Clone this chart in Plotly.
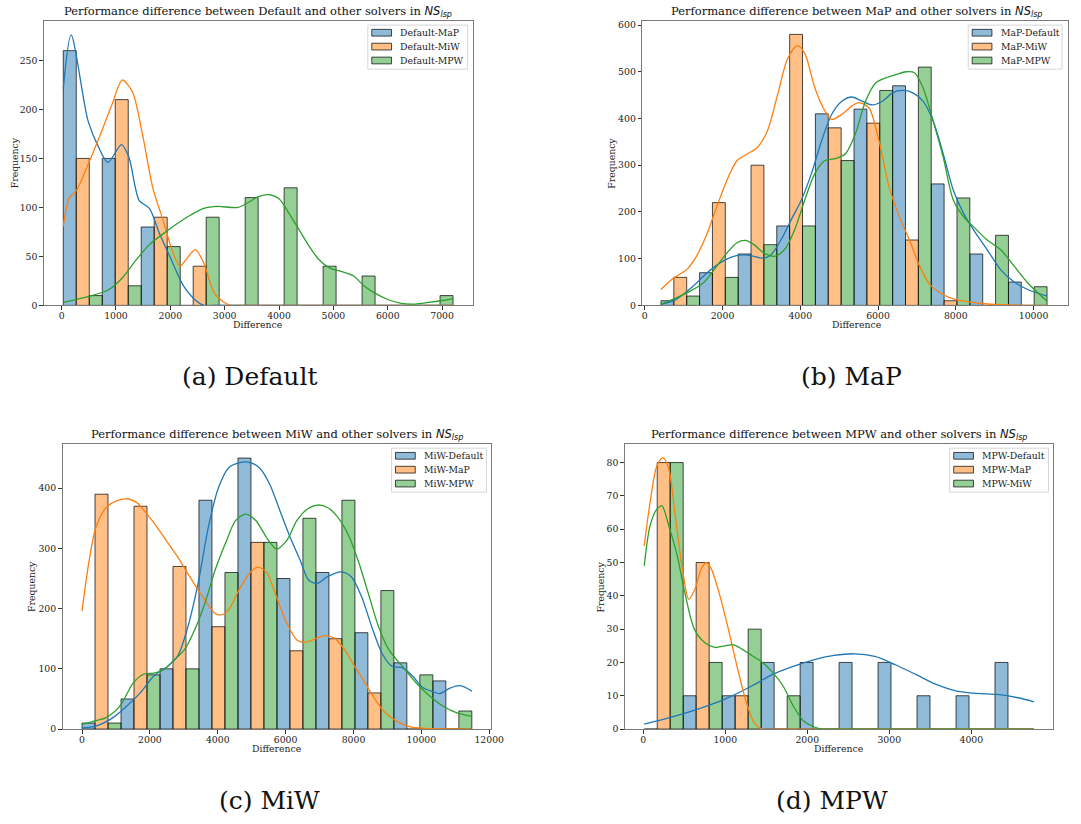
import plotly.graph_objects as go

W, H = 1081, 824
COLORS = ["#1f77b4", "#ff7f0e", "#2ca02c"]
FILLS = ["rgba(31,119,180,0.5)", "rgba(255,127,14,0.5)", "rgba(44,160,44,0.5)"]
EDGE = "rgba(0,0,0,0.7)"
SERIF = "DejaVu Serif"

# ---------------- data: panel (a) ----------------
a_solver = "Default"
a_labels = ["Default-MaP", "Default-MiW", "Default-MPW"]
a_edges = [31, 748, 1465, 2182, 2899, 3616, 4333, 5050, 5767, 6484, 7201]
a_counts_1 = [260, 150, 80, 0, 0, 0, 0, 0, 0, 0]
a_counts_2 = [150, 210, 90, 40, 0, 0, 0, 0, 0, 0]
a_counts_3 = [10, 20, 60, 90, 110, 120, 40, 30, 0, 10]
a_kde1_x = [31, 175, 488, 676, 852, 1102, 1240, 1428, 1615, 1803, 1991, 2242, 2492, 2617, 2800, 7201]
a_kde1_y = [221, 276, 188, 162, 146, 164, 151, 107, 99, 73, 50, 20, 4, 0, 0, 0]
a_kde2_x = [31, 144, 269, 488, 739, 927, 1115, 1302, 1490, 1678, 1866, 2054, 2179, 2304, 2461, 2617,
            2805, 2993, 3118, 3300, 7201]
a_kde2_y = [81, 110, 117, 144, 178, 205, 230, 218, 174, 120, 87, 53, 40, 48, 57, 43, 13, 3, 0, 0, 0]
a_kde3_x = [31, 488, 864, 1115, 1365, 1615, 1866, 2116, 2367, 2617, 2868, 3244, 3432, 3620, 3808, 3995,
            4183, 4371, 4558, 4746, 4934, 5122, 5372, 5560, 5748, 5999, 6249, 6500, 6750, 7000, 7201]
a_kde3_y = [3, 9, 16, 28, 46, 62, 73, 83, 92, 99, 101, 100, 105, 111, 113, 109, 94, 77, 60, 46, 38, 35,
            30, 20, 13, 6, 2, 1.3, 3, 5, 7]
a_xticks = [0, 1000, 2000, 3000, 4000, 5000, 6000, 7000]
a_yticks = [0, 50, 100, 150, 200, 250]

# ---------------- data: panel (b) ----------------
b_solver = "MaP"
b_labels = ["MaP-Default", "MaP-MiW", "MaP-MPW"]
b_edges = [417, 1410, 2403, 3396, 4389, 5383, 6376, 7369, 8362, 9355, 10348]
b_counts_1 = [10, 70, 110, 170, 410, 420, 470, 260, 110, 50]
b_counts_2 = [60, 220, 300, 580, 380, 390, 140, 10, 0, 0]
b_counts_3 = [20, 60, 130, 170, 310, 460, 510, 230, 150, 40]
b_kde1_x = [417, 809, 1243, 1591, 1939, 2287, 2548, 2809, 3026, 3243, 3504, 3765, 4026, 4287, 4548, 4809,
            5070, 5330, 5591, 5852, 6113, 6374, 6635, 6896, 7157, 7417, 7678, 7939, 8200, 8461, 8809,
            9157, 9504, 9852, 10348]
b_kde1_y = [2, 13, 41, 69, 91, 105, 108, 105, 101, 108, 140, 183, 225, 282, 352, 409, 437, 446, 437, 429,
            437, 455, 460, 455, 437, 395, 324, 246, 197, 161, 119, 76, 50, 34, 20]
b_kde2_x = [417, 748, 1070, 1330, 1591, 1852, 2113, 2374, 2635, 2896, 3157, 3417, 3678, 3922, 4113, 4374,
            4635, 4809, 5070, 5330, 5504, 5765, 6026, 6287, 6548, 6809, 7070, 7330, 7591, 7939, 8374,
            8809, 9330, 10348]
b_kde2_y = [34, 59, 76, 105, 151, 211, 268, 310, 324, 338, 374, 451, 529, 556, 540, 466, 416, 398, 409,
            427, 434, 423, 352, 253, 190, 140, 84, 45, 27, 14, 7, 3, 1, 0]
b_kde3_x = [417, 809, 1157, 1504, 1852, 2113, 2374, 2591, 2809, 3070, 3330, 3591, 3852, 4113, 4374, 4635,
            4896, 5157, 5417, 5678, 5939, 6200, 6461, 6722, 6939, 7157, 7417, 7678, 7939, 8200, 8461,
            8809, 9157, 9504, 9852, 10348]
b_kde3_y = [2, 16, 30, 48, 84, 112, 134, 139, 130, 112, 105, 119, 161, 225, 282, 310, 314, 324, 367, 437,
            476, 487, 494, 500, 498, 466, 395, 317, 225, 190, 168, 140, 119, 84, 48, 9]
b_xticks = [0, 2000, 4000, 6000, 8000, 10000]
b_yticks = [0, 100, 200, 300, 400, 500, 600]

# ---------------- data: panel (c) ----------------
c_solver = "MiW"
c_labels = ["MiW-Default", "MiW-MaP", "MiW-MPW"]
c_edges = [0, 1149, 2298, 3446, 4595, 5744, 6893, 8042, 9190, 10339, 11488]
c_counts_1 = [10, 50, 100, 380, 450, 250, 260, 160, 110, 80]
c_counts_2 = [390, 370, 270, 170, 310, 130, 150, 60, 0, 0]
c_counts_3 = [10, 90, 100, 260, 310, 350, 380, 230, 90, 30]
c_kde1_x = [0, 411, 913, 1314, 1716, 2117, 2518, 2819, 3120, 3421, 3722, 4023, 4324, 4625, 4926, 5227,
            5528, 5829, 6130, 6431, 6682, 6933, 7234, 7635, 7936, 8237, 8538, 8839, 9140, 9441, 9742,
            10043, 10344, 10545, 10846, 11147, 11488]
c_kde1_y = [2, 5, 19, 38, 60, 88, 104, 121, 170, 242, 335, 401, 434, 442, 443, 434, 407, 363, 319, 280,
            247, 242, 253, 261, 253, 220, 170, 126, 104, 102, 88, 69, 62, 59, 68, 72, 63]
c_kde2_x = [0, 211, 411, 712, 1013, 1365, 1615, 1916, 2217, 2518, 2819, 3120, 3421, 3722, 3923, 4124,
            4324, 4625, 4926, 5177, 5428, 5729, 6030, 6331, 6582, 6832, 7134, 7435, 7736, 8037, 8338,
            8639, 8940, 9241, 9642, 10143, 11488]
c_kde2_y = [196, 280, 335, 368, 379, 382, 376, 357, 335, 310, 286, 258, 231, 206, 192, 190, 198, 231,
            258, 269, 261, 220, 176, 148, 144, 149, 155, 151, 132, 104, 77, 49, 27, 14, 4, 1, 0]
c_kde3_x = [0, 411, 712, 1114, 1515, 1816, 2117, 2418, 2719, 3020, 3321, 3622, 3923, 4224, 4525, 4826,
            5127, 5428, 5729, 6030, 6331, 6632, 6933, 7234, 7535, 7836, 8137, 8438, 8739, 9040, 9441,
            9842, 10244, 10645, 11046, 11488]
c_kde3_y = [8, 14, 19, 38, 77, 91, 93, 99, 115, 132, 165, 209, 264, 308, 346, 357, 346, 319, 299, 313,
            346, 365, 372, 368, 352, 324, 280, 225, 170, 132, 104, 77, 55, 38, 27, 21]
c_xticks = [0, 2000, 4000, 6000, 8000, 10000, 12000]
c_yticks = [0, 100, 200, 300, 400]

# ---------------- data: panel (d) ----------------
d_solver = "MPW"
d_labels = ["MPW-Default", "MPW-MaP", "MPW-MiW"]
d_edges = [12, 487, 962, 1438, 1913, 2388, 2863, 3338, 3814, 4289, 4764]
d_counts_1 = [0, 10, 10, 20, 20, 20, 20, 10, 10, 20]
d_counts_2 = [80, 50, 10, 0, 0, 0, 0, 0, 0, 0]
d_counts_3 = [80, 20, 30, 10, 0, 0, 0, 0, 0, 0]
d_kde1_x = [12, 332, 665, 997, 1329, 1578, 1828, 2077, 2326, 2575, 2825, 3074, 3323, 3572, 3821, 4071,
            4320, 4569, 4764]
d_kde1_y = [1.5, 3.5, 6, 9, 13, 16.4, 18.8, 20.8, 22.1, 22.6, 21.8, 19.3, 16.4, 13.4, 11.4, 10.7, 10.4,
            9.4, 8.2]
d_kde2_x = [12, 83, 166, 241, 312, 395, 478, 555, 630, 706, 768, 831, 935, 1038, 1142, 1246, 1350, 1454,
            1600, 4764]
d_kde2_y = [55, 68, 79, 81.5, 78, 63, 48, 39, 42, 48, 50, 48, 40, 30, 19, 9, 2, 0, 0, 0]
d_kde3_x = [12, 83, 166, 228, 312, 415, 498, 623, 748, 872, 997, 1101, 1205, 1329, 1454, 1578, 1703, 1828,
            1952, 2077, 2201, 2400, 4764]
d_kde3_y = [49, 61, 66, 67, 61, 52, 42, 30, 26, 24.5, 25, 25.3, 24, 22, 20, 17, 13, 7, 2.5, 0.7, 0, 0, 0]
d_xticks = [0, 1000, 2000, 3000, 4000]
d_yticks = [0, 10, 20, 30, 40, 50, 60, 70, 80]

captions = ["(a) Default", "(b) MaP", "(c) MiW", "(d) MPW"]

# ---------------- layout geometry (pixels) ----------------
panels = [
    dict(solver=a_solver, labels=a_labels, edges=a_edges, counts=[a_counts_1, a_counts_2, a_counts_3],
         kdes=[(a_kde1_x, a_kde1_y), (a_kde2_x, a_kde2_y), (a_kde3_x, a_kde3_y)],
         xt=a_xticks, yt=a_yticks, frame=(44.3, 478.3, 19, 306), xr=[-328, 7560], yr=[0, 290.4],
         ylab=30, cap=(253.5, 378), legright=473.3, legw=101),
    dict(solver=b_solver, labels=b_labels, edges=b_edges, counts=[b_counts_1, b_counts_2, b_counts_3],
         kdes=[(b_kde1_x, b_kde1_y), (b_kde2_x, b_kde2_y), (b_kde3_x, b_kde3_y)],
         xt=b_xticks, yt=b_yticks, frame=(650, 1081, 19, 306), xr=[-66, 10887], yr=[0, 609],
         ylab=31, cap=(862, 378), legright=1075, legw=95),
    dict(solver=c_solver, labels=c_labels, edges=c_edges, counts=[c_counts_1, c_counts_2, c_counts_3],
         kdes=[(c_kde1_x, c_kde1_y), (c_kde2_x, c_kde2_y), (c_kde3_x, c_kde3_y)],
         xt=c_xticks, yt=c_yticks, frame=(63.3, 497.3, 445.7, 733.3), xr=[-574, 12062], yr=[0, 473.5],
         ylab=31.5, cap=(273, 805), legright=492.3, legw=96),
    dict(solver=d_solver, labels=d_labels, edges=d_edges, counts=[d_counts_1, d_counts_2, d_counts_3],
         kdes=[(d_kde1_x, d_kde1_y), (d_kde2_x, d_kde2_y), (d_kde3_x, d_kde3_y)],
         xt=d_xticks, yt=d_yticks, frame=(632.3, 1066.3, 445.7, 733.3), xr=[-226, 5002], yr=[0, 85.6],
         ylab=25, cap=(842, 805), legright=1061.3, legw=100),
]


def px(x):
    return x / W


def py(y):
    return 1 - y / H


fig = go.Figure()
layout = dict(
    width=W, height=H, margin=dict(l=0, r=0, t=0, b=0),
    paper_bgcolor="white", plot_bgcolor="white", showlegend=False,
    barmode="overlay", font=dict(family=SERIF, size=9.3, color="#222222"),
    annotations=[], shapes=[],
)

for idx, p in enumerate(panels, start=1):
    sfx = "" if idx == 1 else str(idx)
    xa, ya = "x" + sfx, "y" + sfx
    L, R, T, B = p["frame"]
    edges = p["edges"]
    nb = len(edges) - 1
    for k, (lab, counts) in enumerate(zip(p["labels"], p["counts"])):
        w = [(edges[i + 1] - edges[i]) / 3 for i in range(nb)]
        xc = [edges[i] + (k + 0.5) * w[i] for i in range(nb)]
        fig.add_trace(go.Bar(
            x=xc, y=counts, width=w, name=lab, xaxis=xa, yaxis=ya,
            marker=dict(color=FILLS[k], line=dict(color=EDGE, width=1)),
            hoverinfo="skip"))
    for k, (kx, ky) in enumerate(p["kdes"]):
        fig.add_trace(go.Scatter(
            x=kx, y=ky, mode="lines", xaxis=xa, yaxis=ya, name=p["labels"][k] + " KDE",
            line=dict(color=COLORS[k], width=1.3, shape="spline", smoothing=0.8),
            hoverinfo="skip"))

    axcommon = dict(showline=True, mirror=True, linecolor="#7a7a7a", linewidth=1,
                    showgrid=False, zeroline=False, ticks="outside", ticklen=3.5,
                    tickwidth=0.8, tickcolor="#333333",
                    tickfont=dict(family=SERIF, size=9.3, color="#222222"))
    layout["xaxis" + sfx] = dict(axcommon, domain=[px(L), px(R)], range=p["xr"], anchor=ya,
                                 tickvals=p["xt"], ticktext=[str(v) for v in p["xt"]],
                                 ticklabelstandoff=-2)
    layout["yaxis" + sfx] = dict(axcommon, domain=[py(B), py(T)], range=p["yr"], anchor=xa,
                                 tickvals=p["yt"], ticktext=[str(v) for v in p["yt"]])

    # legend box (matplotlib style): frame, colour patches and labels
    lr = p["legright"]
    ll = lr - p["legw"]
    lt = T + 4.3
    lb = lt + 44.4
    layout["shapes"].append(dict(type="rect", xref="paper", yref="paper",
                                 x0=px(ll), x1=px(lr), y0=py(lb), y1=py(lt),
                                 line=dict(color="#d6d6d6", width=1),
                                 fillcolor="rgba(255,255,255,0.8)", layer="above"))
    for k, lab in enumerate(p["labels"]):
        cy = lt + 7.7 + 14 * k
        layout["shapes"].append(dict(type="rect", xref="paper", yref="paper",
                                     x0=px(ll + 4), x1=px(ll + 24), y0=py(cy + 3.4), y1=py(cy - 3.4),
                                     line=dict(color=EDGE, width=1), fillcolor=FILLS[k], layer="above"))
        layout["annotations"].append(dict(text=lab, x=px(ll + 31), y=py(cy), xref="paper", yref="paper",
                                          xanchor="left", yanchor="middle", showarrow=False,
                                          font=dict(family=SERIF, size=9.3, color="#222222")))

    cx = (L + (R if idx != 2 else 1084)) / 2
    title = (f"Performance difference between {p['solver']} and other solvers in "
             "<span style='font-family:DejaVu Sans'><i>NS</i><sub><i>lsp</i></sub></span>")
    layout["annotations"] += [
        dict(text=title, x=px(cx), y=py(T - 9), xref="paper", yref="paper",
             xanchor="center", yanchor="middle", showarrow=False,
             font=dict(family=SERIF, size=11.5, color="#111111")),
        dict(text="Difference", x=px(cx), y=py(B + 19.5), xref="paper", yref="paper",
             xanchor="center", yanchor="middle", showarrow=False,
             font=dict(family=SERIF, size=9.3, color="#222222")),
        dict(text="Frequency", x=px(L - p["ylab"]), y=py((T + B) / 2), xref="paper", yref="paper",
             xanchor="center", yanchor="middle", textangle=-90, showarrow=False,
             font=dict(family=SERIF, size=9.3, color="#222222")),
        dict(text=captions[idx - 1], x=px(p["cap"][0]), y=py(p["cap"][1]), xref="paper", yref="paper",
             xanchor="center", yanchor="middle", showarrow=False,
             font=dict(family=SERIF, size=25, color="#111111")),
    ]

fig.update_layout(**layout)
fig.write_html("out.html", config={"displayModeBar": False},
               post_script="document.body.style.margin='0px';document.body.style.padding='0px';")
